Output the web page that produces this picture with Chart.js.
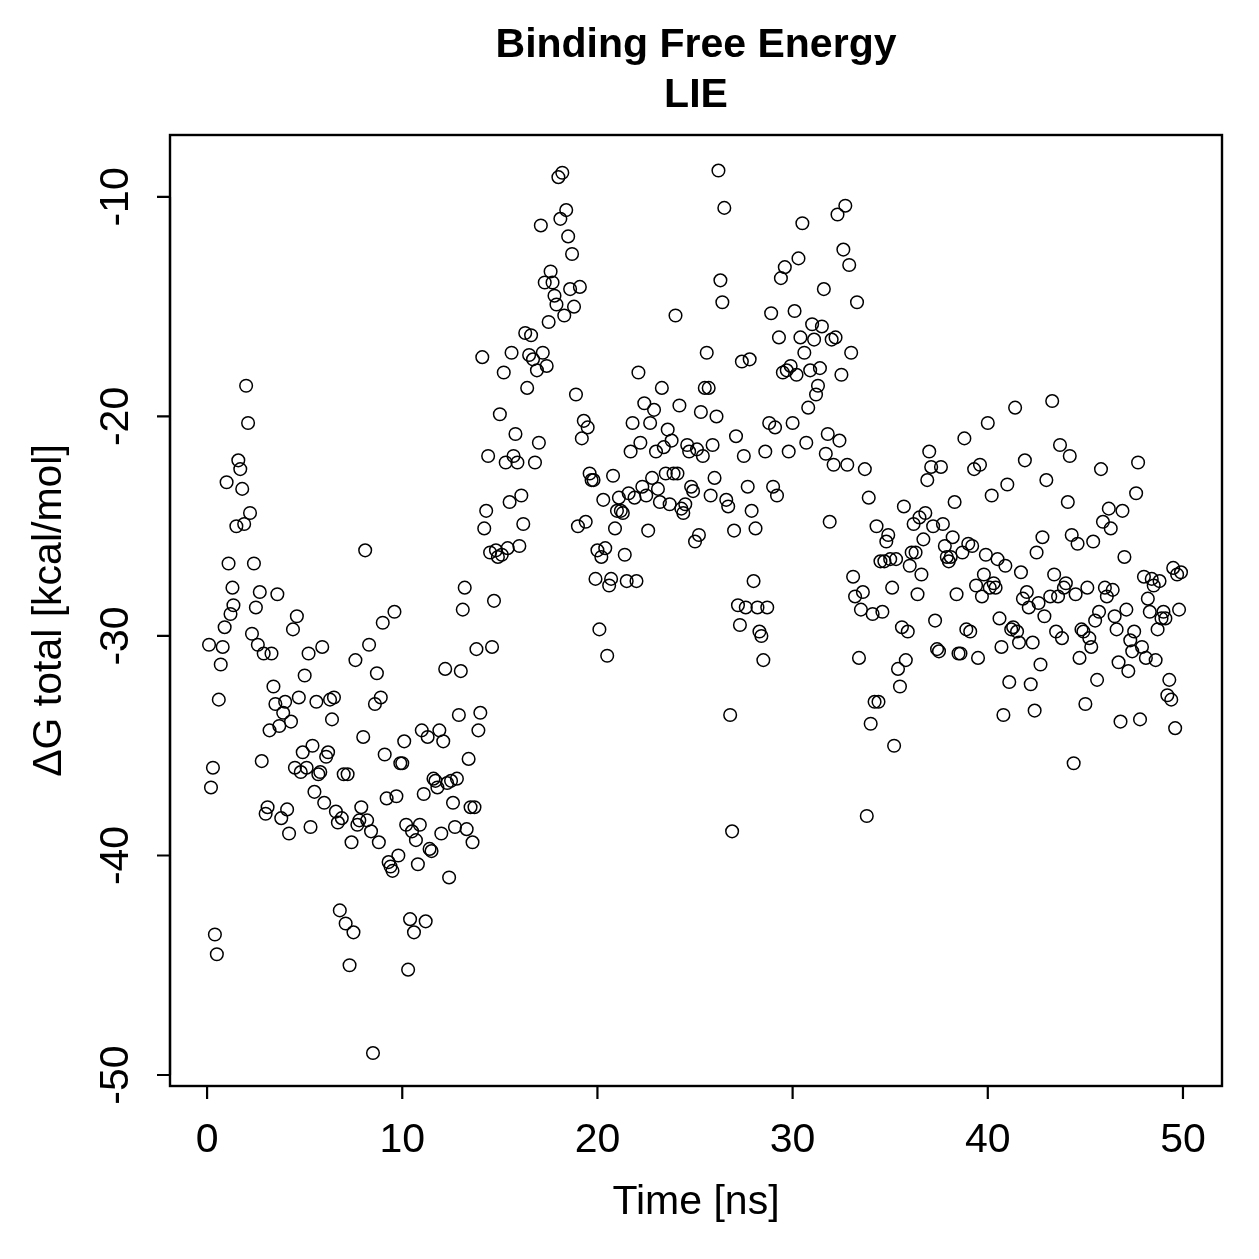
<!DOCTYPE html>
<html>
<head>
<meta charset="utf-8">
<script src="https://cdn.jsdelivr.net/npm/chart.js@4.4.0/dist/chart.umd.min.js"></script>
<style>
  html, body { margin: 0; padding: 0; background: #fff; }
  canvas { display: block; }
</style>
</head>
<body>
<canvas id="lieChart" width="1259" height="1259"></canvas>
<script>
// Time axis [ns]
const timeNs = [
  0.1, 0.2, 0.3, 0.4, 0.5, 0.6, 0.7, 0.8, 0.9, 1.0, 1.1, 1.2, 1.3, 1.35, 1.5, 1.6, 1.7, 1.8, 1.9,
  2.0, 2.1, 2.2, 2.3, 2.4, 2.5, 2.6, 2.7, 2.8, 2.9,
  3.0, 3.1, 3.2, 3.3, 3.4, 3.5, 3.6, 3.7, 3.8, 3.9,
  4.0, 4.1, 4.2, 4.3, 4.4, 4.5, 4.6, 4.7, 4.8, 4.9,
  5.0, 5.1, 5.2, 5.3, 5.4, 5.5, 5.6, 5.7, 5.8, 5.9,
  6.0, 6.1, 6.2, 6.3, 6.4, 6.5, 6.6, 6.7, 6.8, 6.9,
  7.0, 7.1, 7.2, 7.3, 7.4, 7.5, 7.6, 7.7, 7.8, 7.9,
  8.0, 8.1, 8.2, 8.3, 8.4, 8.5, 8.6, 8.7, 8.8, 8.9,
  9.0, 9.1, 9.2, 9.3, 9.4, 9.5, 9.6, 9.7, 9.8, 9.9,
  10.0, 10.1, 10.2, 10.3, 10.4, 10.5, 10.6, 10.7, 10.8, 10.9,
  11.0, 11.1, 11.2, 11.3, 11.4, 11.5, 11.6, 11.7, 11.8, 11.9,
  12.0, 12.1, 12.2, 12.3, 12.4, 12.5, 12.6, 12.7, 12.8, 12.9,
  13.0, 13.1, 13.2, 13.3, 13.4, 13.5, 13.6, 13.7, 13.8, 13.9,
  14.0, 14.1, 14.2, 14.3, 14.4, 14.5, 14.6, 14.7, 14.8, 14.9,
  15.0, 15.1, 15.2, 15.3, 15.4, 15.5, 15.6, 15.7, 15.8, 15.9,
  16.0, 16.1, 16.2, 16.3, 16.4, 16.5, 16.6, 16.7, 16.8, 16.9,
  17.0, 17.1, 17.2, 17.3, 17.4, 17.5, 17.6, 17.7, 17.8, 17.9,
  18.0, 18.1, 18.2, 18.3, 18.4, 18.5, 18.6, 18.7, 18.8, 18.9,
  19.0, 19.1, 19.2, 19.3, 19.4, 19.5, 19.6, 19.7, 19.8, 19.9,
  20.0, 20.1, 20.2, 20.3, 20.4, 20.5, 20.6, 20.7, 20.8, 20.9,
  21.0, 21.1, 21.2, 21.3, 21.4, 21.5, 21.6, 21.7, 21.8, 21.9,
  22.0, 22.1, 22.2, 22.3, 22.4, 22.5, 22.6, 22.7, 22.8, 22.9,
  23.0, 23.1, 23.2, 23.3, 23.4, 23.5, 23.6, 23.7, 23.8, 23.9,
  24.0, 24.1, 24.2, 24.3, 24.4, 24.5, 24.6, 24.7, 24.8, 24.9,
  25.0, 25.1, 25.2, 25.3, 25.4, 25.5, 25.6, 25.7, 25.8, 25.9,
  26.0, 26.1, 26.2, 26.3, 26.4, 26.5, 26.6, 26.7, 26.8, 26.9,
  27.0, 27.1, 27.2, 27.3, 27.4, 27.5, 27.6, 27.7, 27.8, 27.9,
  28.0, 28.1, 28.2, 28.3, 28.4, 28.5, 28.6, 28.7, 28.8, 28.9,
  29.0, 29.1, 29.2, 29.3, 29.4, 29.5, 29.6, 29.7, 29.8, 29.9,
  30.0, 30.1, 30.2, 30.3, 30.4, 30.5, 30.6, 30.7, 30.8, 30.9,
  31.0, 31.1, 31.2, 31.3, 31.4, 31.5, 31.6, 31.7, 31.8, 31.9,
  32.0, 32.1, 32.2, 32.3, 32.4, 32.5, 32.6, 32.7, 32.8, 32.9,
  33.0, 33.1, 33.2, 33.3, 33.4, 33.5, 33.6, 33.7, 33.8, 33.9,
  34.0, 34.1, 34.2, 34.3, 34.4, 34.5, 34.6, 34.7, 34.8, 34.9,
  35.0, 35.1, 35.2, 35.3, 35.4, 35.5, 35.6, 35.7, 35.8, 35.9,
  36.0, 36.1, 36.2, 36.3, 36.4, 36.5, 36.6, 36.7, 36.8, 36.9,
  37.0, 37.1, 37.2, 37.3, 37.4, 37.5, 37.6, 37.7, 37.8, 37.9,
  38.0, 38.1, 38.2, 38.3, 38.4, 38.5, 38.6, 38.7, 38.8, 38.9,
  39.0, 39.1, 39.2, 39.3, 39.4, 39.5, 39.6, 39.7, 39.8, 39.9,
  40.0, 40.1, 40.2, 40.3, 40.4, 40.5, 40.6, 40.7, 40.8, 40.9,
  41.0, 41.1, 41.2, 41.3, 41.4, 41.5, 41.6, 41.7, 41.8, 41.9,
  42.0, 42.1, 42.2, 42.3, 42.4, 42.5, 42.6, 42.7, 42.8, 42.9,
  43.0, 43.2, 43.3, 43.4, 43.5, 43.6, 43.7, 43.8, 43.9,
  44.0, 44.1, 44.2, 44.3, 44.4, 44.5, 44.6, 44.7, 44.8, 44.9,
  45.0, 45.1, 45.2, 45.3, 45.4, 45.5, 45.6, 45.7, 45.8, 45.9,
  46.0, 46.1, 46.2, 46.3, 46.4, 46.5, 46.6, 46.7, 46.8, 46.9,
  47.0, 47.1, 47.2, 47.3, 47.4, 47.5, 47.6, 47.7, 47.8, 47.9,
  48.0, 48.1, 48.2, 48.3, 48.4, 48.5, 48.6, 48.7, 48.8, 48.9,
  49.0, 49.1, 49.2, 49.3, 49.4, 49.5, 49.6, 49.7, 49.8, 49.9
];

// Delta G total [kcal/mol], one per time value
const deltaG = [
  -30.4, -36.9, -36.0, -43.6, -44.5, -32.9, -31.3, -30.5, -29.6, -23.0, -26.7, -29.0, -27.8, -28.6, -25.0, -22.0, -22.4, -23.3, -24.9,
  -18.6, -20.3, -24.4, -29.9, -26.7, -28.7, -30.4, -28.0, -35.7, -30.8,
  -38.1, -37.8, -34.3, -30.8, -32.3, -33.1, -28.1, -34.1, -38.3, -33.5,
  -33.0, -37.9, -39.0, -33.9, -29.7, -36.0, -29.1, -32.8, -36.2, -35.3,
  -31.8, -36.0, -30.8, -38.7, -35.0, -37.1, -33.0, -36.3, -36.2, -30.5,
  -37.6, -35.5, -35.3, -32.9, -33.8, -32.8, -38.0, -38.5, -42.5, -38.3,
  -36.3, -43.1, -36.3, -45.0, -39.4, -43.5, -31.1, -38.6, -38.4, -37.8,
  -34.6, -26.1, -38.4, -30.4, -38.9, -49.0, -33.1, -31.7, -39.4, -32.8,
  -29.4, -35.4, -37.4, -40.3, -40.5, -40.7, -28.9, -37.3, -40.0, -35.8,
  -35.8, -34.8, -38.6, -45.2, -42.9, -38.9, -43.5, -39.3, -40.4, -38.6,
  -34.3, -37.2, -43.0, -34.6, -39.7, -39.8, -36.5, -36.6, -36.9, -34.3,
  -39.0, -34.8, -31.5, -36.7, -41.0, -36.6, -37.6, -38.7, -36.5, -33.6,
  -31.6, -28.8, -27.8, -38.8, -35.6, -37.8, -39.4, -37.8, -30.6, -34.3,
  -33.5, -17.3, -25.1, -24.3, -21.8, -26.2, -30.5, -28.4, -26.1, -26.4,
  -19.9, -26.3, -18.0, -22.1, -26.0, -23.9, -17.1, -21.8, -20.8, -22.1,
  -25.9, -23.6, -24.9, -16.2, -18.7, -17.2, -16.3, -17.4, -22.1, -17.9,
  -21.2, -11.3, -17.1, -13.9, -17.7, -15.7, -13.4, -13.9, -14.5, -14.9,
  -9.1, -11.0, -8.9, -15.4, -10.6, -11.8, -14.2, -12.6, -15.0, -19.0,
  -25.0, -14.1, -21.0, -20.2, -24.8, -20.5, -22.6, -22.9, -22.9, -27.4,
  -26.1, -29.7, -26.4, -23.8, -26.0, -30.9, -27.7, -27.4, -22.7, -25.1,
  -24.3, -23.7, -24.3, -24.4, -26.3, -27.5, -23.5, -21.6, -20.3, -23.7,
  -27.5, -18.0, -21.2, -23.2, -19.4, -23.6, -25.2, -20.3, -22.8, -19.7,
  -21.6, -23.3, -23.9, -18.7, -21.4, -22.6, -20.6, -24.0, -21.1, -22.6,
  -15.4, -22.6, -19.5, -24.2, -24.4, -24.0, -21.3, -21.6, -23.2, -23.4,
  -25.7, -21.5, -25.4, -19.8, -21.8, -18.7, -17.1, -18.7, -23.6, -21.3,
  -22.8, -20.0, -8.8, -13.8, -14.8, -10.5, -23.8, -24.1, -33.6, -38.9,
  -25.2, -20.9, -28.6, -29.5, -17.5, -21.8, -28.7, -23.2, -17.4, -24.3,
  -27.5, -25.1, -28.7, -29.8, -30.0, -31.1, -21.6, -28.7, -20.3, -15.3,
  -23.2, -20.5, -23.6, -16.4, -13.7, -18.0, -13.2, -17.9, -21.6, -17.7,
  -20.3, -15.2, -18.1, -12.8, -16.4, -11.2, -17.1, -21.2, -19.6, -17.9,
  -15.8, -16.5, -19.0, -18.6, -17.8, -15.9, -14.2, -21.7, -20.8, -24.8,
  -16.5, -22.2, -16.4, -10.8, -21.1, -18.1, -12.4, -10.4, -22.2, -13.1,
  -17.1, -27.3, -28.2, -14.8, -31.0, -28.8, -28.0, -22.4, -38.2, -23.7,
  -34.0, -29.0, -33.0, -25.0, -33.0, -26.6, -28.9, -26.6, -25.7, -25.4,
  -26.5, -27.8, -35.0, -26.5, -31.5, -32.3, -29.6, -24.1, -31.1, -29.8,
  -26.8, -26.2, -24.9, -26.2, -28.1, -24.6, -27.2, -25.6, -24.4, -22.9,
  -21.6, -22.3, -25.0, -29.3, -30.6, -30.7, -22.3, -24.9, -25.9, -26.4,
  -26.6, -26.4, -25.5, -23.9, -28.1, -30.8, -30.8, -26.2, -21.0, -29.7,
  -25.8, -29.8, -25.9, -22.4, -27.7, -31.0, -22.2, -28.2, -27.2, -26.3,
  -20.3, -27.8, -23.6, -27.6, -27.8, -26.5, -29.2, -30.5, -33.6, -26.8,
  -23.1, -32.1, -29.7, -29.6, -19.6, -29.8, -30.3, -27.1, -28.3, -22.0,
  -28.0, -28.7, -32.2, -30.3, -33.4, -26.2, -28.5, -31.3, -25.5, -29.1,
  -22.9, -28.2, -19.3, -27.2, -29.8, -28.2, -21.3, -30.1, -27.8,
  -27.6, -23.9, -21.8, -25.4, -35.8, -28.1, -25.8, -31.0, -29.7, -29.8,
  -33.1, -27.8, -30.1, -30.5, -25.7, -29.3, -32.0, -28.9, -22.4, -24.8,
  -27.8, -28.2, -24.2, -25.1, -27.9, -29.1, -29.7, -31.2, -33.9, -24.3,
  -26.4, -28.8, -31.6, -30.2, -30.7, -29.8, -23.5, -22.1, -33.8, -30.5,
  -27.3, -31.0, -28.3, -28.9, -27.4, -27.7, -31.1, -29.7, -27.5, -29.2,
  -28.9, -29.2, -32.7, -32.0, -32.9, -26.9, -34.2, -27.2, -28.8, -27.1
];

// Axis ticks and labels
const xTicks = [0, 10, 20, 30, 40, 50];
const yTicks = [-50, -40, -30, -20, -10];
const titleLines = ['Binding Free Energy', 'LIE'];
const xTitle = 'Time [ns]';
const yTitle = '\u0394G total [kcal/mol]';

const FONT = '"Liberation Sans", Arial, Helvetica, sans-serif';

// R base-graphics style frame, ticks and labels
const rAxes = {
  id: 'rAxes',
  afterDraw(chart) {
    const { ctx, chartArea: a } = chart;
    const xs = chart.scales.x;
    const ys = chart.scales.y;
    const tickLen = 13;

    ctx.save();
    ctx.strokeStyle = '#000';
    ctx.fillStyle = '#000';
    ctx.lineWidth = 2.4;
    ctx.strokeRect(a.left, a.top, a.right - a.left, a.bottom - a.top);

    // x axis
    ctx.lineWidth = 2.2;
    ctx.beginPath();
    ctx.moveTo(xs.getPixelForValue(xTicks[0]), a.bottom);
    ctx.lineTo(xs.getPixelForValue(xTicks[xTicks.length - 1]), a.bottom);
    xTicks.forEach(v => {
      const px = xs.getPixelForValue(v);
      ctx.moveTo(px, a.bottom);
      ctx.lineTo(px, a.bottom + tickLen);
    });
    ctx.stroke();

    ctx.font = '41px ' + FONT;
    ctx.textAlign = 'center';
    ctx.textBaseline = 'middle';
    xTicks.forEach(v => ctx.fillText(String(v), xs.getPixelForValue(v), a.bottom + 55));

    // y axis
    ctx.beginPath();
    ctx.moveTo(a.left, ys.getPixelForValue(yTicks[0]));
    ctx.lineTo(a.left, ys.getPixelForValue(yTicks[yTicks.length - 1]));
    yTicks.forEach(v => {
      const py = ys.getPixelForValue(v);
      ctx.moveTo(a.left, py);
      ctx.lineTo(a.left - tickLen, py);
    });
    ctx.stroke();

    yTicks.forEach(v => {
      ctx.save();
      ctx.translate(a.left - 53, ys.getPixelForValue(v));
      ctx.rotate(-Math.PI / 2);
      ctx.fillText(String(v), 0, 0);
      ctx.restore();
    });

    // titles
    const cx = (a.left + a.right) / 2;
    ctx.font = 'bold 41px ' + FONT;
    ctx.fillText(titleLines[0], cx, 46);
    ctx.fillText(titleLines[1], cx, 96);

    ctx.font = '41px ' + FONT;
    ctx.fillText(xTitle, cx, a.bottom + 117);

    ctx.save();
    ctx.translate(a.left - 120, (a.top + a.bottom) / 2);
    ctx.rotate(-Math.PI / 2);
    ctx.fillText(yTitle, 0, 0);
    ctx.restore();

    ctx.restore();
  }
};

const points = timeNs.map((t, i) => ({ x: t, y: deltaG[i] }));

const chart = new Chart(document.getElementById('lieChart').getContext('2d'), {
  type: 'scatter',
  data: {
    datasets: [{
      data: points,
      pointStyle: 'circle',
      pointRadius: 6.3,
      borderWidth: 1.5,
      borderColor: '#000',
      backgroundColor: 'rgba(0,0,0,0)'
    }]
  },
  options: {
    responsive: false,
    animation: false,
    devicePixelRatio: 1,
    layout: { padding: { left: 170, right: 37, top: 135, bottom: 173 } },
    plugins: {
      legend: { display: false },
      tooltip: { enabled: false }
    },
    scales: {
      x: { type: 'linear', min: -1.9, max: 52.0, display: false },
      y: { type: 'linear', min: -50.5, max: -7.18, display: false }
    }
  },
  plugins: [rAxes]
});
</script>
</body>
</html>
